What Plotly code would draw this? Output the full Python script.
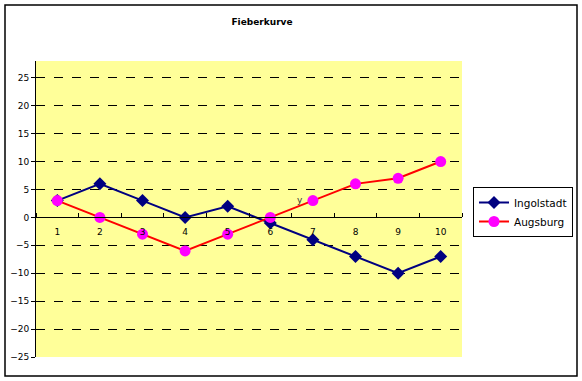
import plotly.graph_objects as go

categories = [1, 2, 3, 4, 5, 6, 7, 8, 9, 10]
ingolstadt = [3, 6, 3, 0, 2, -1, -4, -7, -10, -7]
augsburg = [3, 0, -3, -6, -3, 0, 3, 6, 7, 10]
y_ticks = [-25, -20, -15, -10, -5, 0, 5, 10, 15, 20, 25]

W, H = 582, 381
L, R, T, B = 36, 120, 61, 24
pw, ph = W - L - R, H - T - B
yr = [-25, 28]
xr = [0.5, 10.5]

fig = go.Figure()
fig.add_trace(go.Scatter(
    x=categories, y=ingolstadt, name="Ingolstadt", mode="lines+markers",
    line=dict(color="#000080", width=2),
    marker=dict(symbol="diamond", size=10, color="#000080"),
))
fig.add_trace(go.Scatter(
    x=categories, y=augsburg, name="Augsburg", mode="lines+markers",
    line=dict(color="#FF0000", width=2),
    marker=dict(symbol="circle", size=11, color="#FF00FF"),
))

def px2x(p):
    return (p - L) / pw
def px2y(p):
    return (H - B - p) / ph

fig.add_shape(type="rect", xref="paper", yref="paper",
              x0=px2x(5), x1=px2x(577), y0=px2y(376), y1=px2y(5),
              line=dict(color="black", width=1.5), layer="below")

fig.add_annotation(x=6.7, y=3.2, text="y", showarrow=False,
                   font=dict(family="DejaVu Sans", size=9, color="#333333"))

fig.update_layout(
    width=W, height=H,
    margin=dict(l=L, r=R, t=T, b=B, autoexpand=False),
    paper_bgcolor="white",
    plot_bgcolor="#FFFF99",
    title=dict(text="<b>Fieberkurve</b>", x=262 / W, xanchor="center",
               y=1 - 22 / H, yanchor="middle",
               font=dict(family="DejaVu Sans", size=9, color="black")),
    showlegend=True,
    legend=dict(x=px2x(473), y=px2y(187), xanchor="left", yanchor="top",
                bordercolor="black", borderwidth=1, bgcolor="white",
                font=dict(family="DejaVu Sans", size=10.5, color="black"),
                tracegroupgap=0, itemwidth=30),
    xaxis=dict(range=xr, tickvals=categories, ticktext=[str(c) for c in categories],
               anchor="free", position=(0 - yr[0]) / (yr[1] - yr[0]),
               showgrid=False, zeroline=False, showline=True, linecolor="black",
               linewidth=1, ticks="", ticklabelstandoff=6,
               tickfont=dict(family="DejaVu Sans", size=9, color="black"),
               minor=dict(ticks="inside", tick0=0.5, dtick=1, ticklen=4,
                          tickcolor="black", showgrid=False)),
    yaxis=dict(range=yr, tickvals=y_ticks, showgrid=True, gridcolor="black",
               griddash="dash", gridwidth=1, zeroline=False,
               showline=True, linecolor="black", linewidth=1,
               ticks="outside", ticklen=4, tickcolor="black",
               tickfont=dict(family="DejaVu Sans", size=9, color="black")),
)

fig.write_html("out.html", config={"displayModeBar": False},
               post_script="document.body.style.margin='0px';")
